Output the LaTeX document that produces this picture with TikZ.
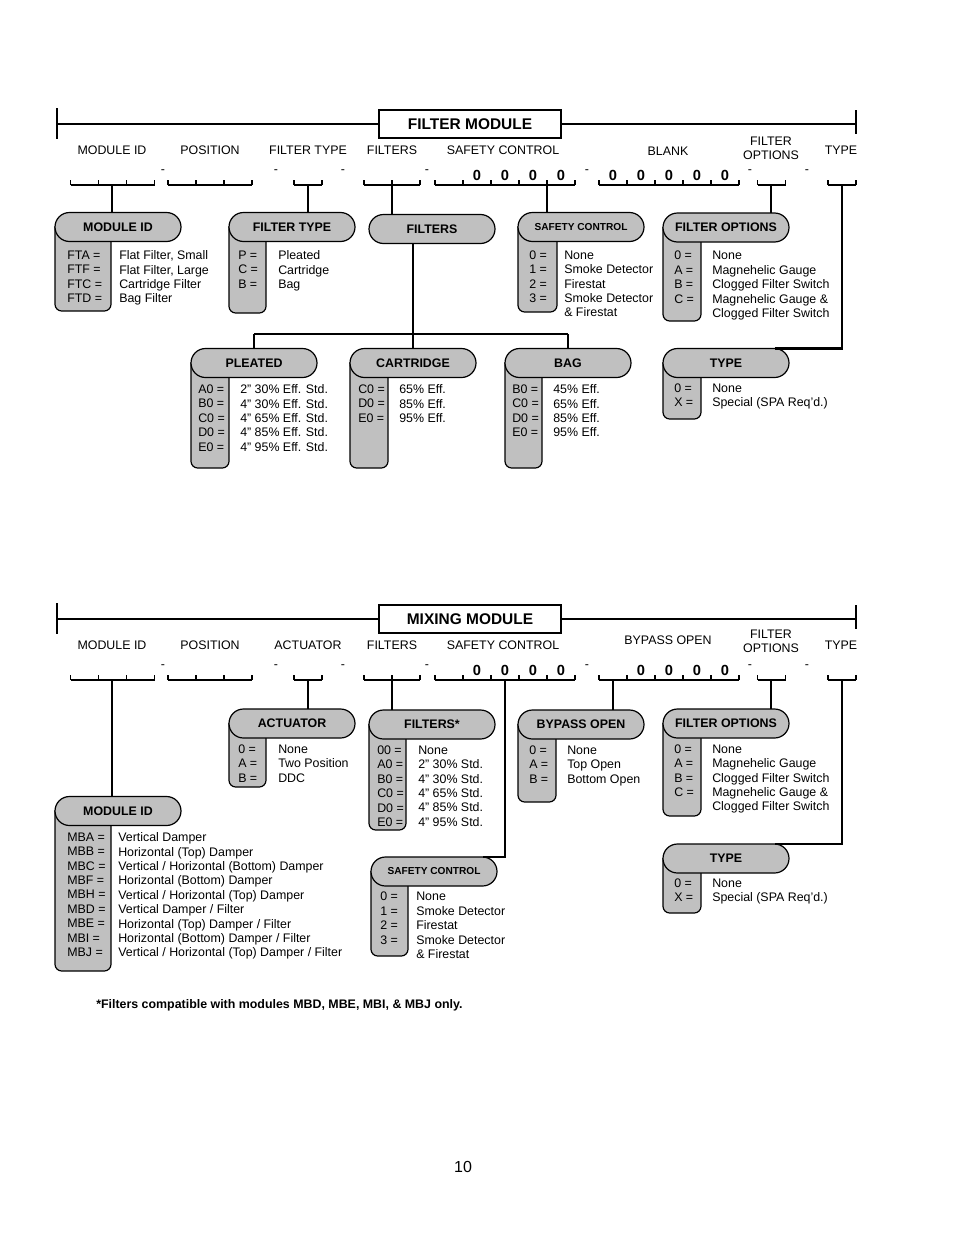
\documentclass[tikz,border=0pt]{standalone}
\usepackage{fontspec}
\setmainfont{Liberation Sans}
\usetikzlibrary{shapes.misc}

\definecolor{boxgray}{RGB}{192,192,192}

\tikzset{
  txt/.style={inner sep=0pt, font=\fontsize{9.3}{10.8}\selectfont},
  twoline/.style={txt, align=center},
  codes/.style={txt, anchor=north west, align=left},
  pill/.style={rounded rectangle, draw, fill=boxgray, line width=0.9pt,
    minimum width=94.5pt, minimum height=21.75pt, inner sep=0pt, outer sep=0pt,
    anchor=west, font=\bfseries\fontsize{9.3}{11}\selectfont},
  smallhdr/.style={font=\bfseries\fontsize{7.6}{9}\selectfont},
  tabfill/.style={draw, fill=boxgray, line width=0.9pt},
  titlebox/.style={draw, line width=1.6pt, minimum width=136.5pt, minimum height=21pt,
    inner sep=0pt, font=\bfseries\fontsize{11.6}{13}\selectfont},
  digit/.style={inner sep=0pt, font=\bfseries\fontsize{11}{13}\selectfont},
  bar/.style={line width=0.9pt},
  thinline/.style={line width=0.8pt},
  thickline/.style={line width=1.6pt}
}

% tab under a pill: left x, centre y, right x, bottom y
\newcommand{\codetab}[4]{%
  \draw[tabfill] (#1,#2) [rounded corners=5pt] -- (#1,#4) -- (#3,#4) -- (#3,#2) [sharp corners] -- cycle;}
% row of code slots: left x, slots, y
\newcommand{\slotrow}[3]{%
  \draw[bar] (#1,#3) -- ++(28*#2,0);
  \foreach \k in {0,...,#2} \draw[bar] (#1+28*\k,#3) -- ++(0,-5);}

\begin{document}
\begin{tikzpicture}[x=0.75pt, y=-0.75pt]
        \fill[white] (0,0) rectangle (954,1235);
        \useasboundingbox (0,0) rectangle (954,1235);

        % ---------------- filter module ----------------
        \node[titlebox] (fmtitle) at (470,124) {FILTER MODULE};
        \coordinate (fmleft) at (57,124);
        \coordinate (fmright) at (856,124);
        \draw[thinline] (fmleft) -- (fmtitle.west);
        \draw[thinline] (fmtitle.east) -- (fmright);
        \draw[thinline] (fmleft) ++(0,-16) -- ++(0,31);
        \draw[thinline] (fmright) ++(0,-14) -- ++(0,24);

        \node[txt] (fmlid) at (112,150) {MODULE ID};
        \node[txt] (fmlpos) at (210,150) {POSITION};
        \node[txt] (fmlft) at (308,150) {FILTER TYPE};
        \node[txt] (fmlfil) at (392,150) {FILTERS};
        \node[txt] (fmlsc) at (503,150) {SAFETY CONTROL};
        \node[txt] (fmlbl) at (668,151) {BLANK};
        \node[twoline] (fmlfo) at (771,148) {FILTER\\OPTIONS};
        \node[txt] (fmlty) at (841,150) {TYPE};

        \slotrow{70.7}{3}{185}
        \slotrow{168}{3}{185}
        \slotrow{294}{1}{185}
        \slotrow{364}{2}{185}
        \slotrow{435}{5}{185}
        \slotrow{599}{5}{185}
        \slotrow{757.7}{1}{185}
        \slotrow{828}{1}{185}
        \foreach \x in {163,276,343,427,587,750,807}
          \node[txt] (fmdash\x) at (\x,172) {-};
        \foreach \x in {477,505,533,561,613,641,669,697,725}
          \node[digit] (fmzero\x) at (\x,175.5) {0};

        \coordinate (fmidc) at (112,185);
        \coordinate (fmftc) at (308,185);
        \coordinate (fmfilc) at (392,185);
        \coordinate (fmscc) at (547,185);
        \coordinate (fmfoc) at (771,185);
        \coordinate (fmtyc) at (842,185);

        % module id
        \codetab{55}{227}{111}{311}
        \node[pill] (fmid) at (55,227) {MODULE ID};
        \node[codes] (fmidcode) at (67,250.5) {FTA =\\FTF =\\FTC =\\FTD =};
        \node[codes] (fmidtext) at (119,250.5) {Flat Filter, Small\\Flat Filter, Large\\Cartridge Filter\\Bag Filter};
        % filter type
        \codetab{229}{227}{266}{313}
        \node[pill] (fmft) at (229,227) {FILTER TYPE};
        \node[codes] (fmftcode) at (238,250.5) {P =\\C =\\B =};
        \node[codes] (fmfttext) at (278,250.5) {Pleated\\Cartridge\\Bag};
        % filters
        \node[pill] (fmfil) at (369,229) {FILTERS};
        % safety control
        \codetab{518}{227}{557}{312}
        \node[pill, smallhdr] (fmsc) at (518,227) {SAFETY CONTROL};
        \node[codes] (fmsccode) at (529,250.5) {0 =\\1 =\\2 =\\3 =};
        \node[codes] (fmsctext) at (564,250.5) {None\\Smoke Detector\\Firestat\\Smoke Detector\\\& Firestat};
        % filter options
        \codetab{663}{227.5}{701}{321}
        \node[pill] (fmfo) at (663,227.5) {FILTER OPTIONS};
        \node[codes] (fmfocode) at (674,251) {0 =\\A =\\B =\\C =};
        \node[codes] (fmfotext) at (712,251) {None\\Magnehelic Gauge\\Clogged Filter Switch\\Magnehelic Gauge \&\\Clogged Filter Switch};
        % type
        \codetab{663}{363}{701}{419}
        \node[pill] (fmty) at (663,363) {TYPE};
        \node[codes] (fmtycode) at (674,383.5) {0 =\\X =};
        \node[codes] (fmtytext) at (712,383.5) {None\\Special (SPA Req’d.)};
        % pleated
        \codetab{191}{363}{229}{468}
        \node[pill] (fmpl) at (191,363) {PLEATED};
        \node[codes] (fmplcode) at (198,384.5) {A0 =\\B0 =\\C0 =\\D0 =\\E0 =};
        \node[codes] (fmpltext) at (240,384.5) {2” 30\% Eff. Std.\\4” 30\% Eff. Std.\\4” 65\% Eff. Std.\\4” 85\% Eff. Std.\\4” 95\% Eff. Std.};
        % cartridge
        \codetab{350}{363}{388}{468}
        \node[pill] (fmca) at (350,363) {CARTRIDGE};
        \node[codes] (fmcacode) at (358,384.5) {C0 =\\D0 =\\E0 =};
        \node[codes] (fmcatext) at (399,384.5) {65\% Eff.\\85\% Eff.\\95\% Eff.};
        % bag
        \codetab{505}{363}{542}{468}
        \node[pill] (fmbag) at (505,363) {BAG};
        \node[codes] (fmbagcode) at (512,384.5) {B0 =\\C0 =\\D0 =\\E0 =};
        \node[codes] (fmbagtext) at (553,384.5) {45\% Eff.\\65\% Eff.\\85\% Eff.\\95\% Eff.};

        \draw[thickline] (fmidc) -- (fmidc |- fmid.north);
        \draw[thinline] (fmftc) -- (fmftc |- fmft.north);
        \draw[thickline] (fmfilc) -- (fmfilc |- fmfil.north);
        \draw[thickline] (fmscc) -- (fmscc |- fmsc.north);
        \draw[thinline] (fmfoc) -- (fmfoc |- fmfo.north);
        \draw[thickline] (fmtyc) |- (fmty.north east);
        \coordinate (fmfork) at (412,334);
        \draw[thinline] (fmca.north |- fmfil.south) -- (fmca.north);
        \draw[thinline] (fmpl.north |- fmfork) -- (fmbag.north |- fmfork);
        \draw[thinline] (fmpl.north |- fmfork) -- (fmpl.north);
        \draw[thinline] (fmbag.north |- fmfork) -- (fmbag.north);

        % ---------------- mixing module ----------------
        \node[titlebox] (mmtitle) at (470,619) {MIXING MODULE};
        \coordinate (mmleft) at (57,619);
        \coordinate (mmright) at (856,619);
        \draw[thinline] (mmleft) -- (mmtitle.west);
        \draw[thinline] (mmtitle.east) -- (mmright);
        \draw[thinline] (mmleft) ++(0,-16) -- ++(0,31);
        \draw[thinline] (mmright) ++(0,-14) -- ++(0,24);

        \node[txt] (mmlid) at (112,645) {MODULE ID};
        \node[txt] (mmlpos) at (210,645) {POSITION};
        \node[txt] (mmlact) at (308,645) {ACTUATOR};
        \node[txt] (mmlfil) at (392,645) {FILTERS};
        \node[txt] (mmlsc) at (503,645) {SAFETY CONTROL};
        \node[txt] (mmlbyp) at (668,640) {BYPASS OPEN};
        \node[twoline] (mmlfo) at (771,641.5) {FILTER\\OPTIONS};
        \node[txt] (mmlty) at (841,645) {TYPE};

        \slotrow{70.7}{3}{680}
        \slotrow{168}{3}{680}
        \slotrow{294}{1}{680}
        \slotrow{364}{2}{680}
        \slotrow{435}{5}{680}
        \slotrow{599}{5}{680}
        \slotrow{757.7}{1}{680}
        \slotrow{828}{1}{680}
        \foreach \x in {163,276,343,427,587,750,807}
          \node[txt] (mmdash\x) at (\x,667) {-};
        \foreach \x in {477,505,533,561,641,669,697,725}
          \node[digit] (mmzero\x) at (\x,670.5) {0};

        \coordinate (mmidc) at (112,680);
        \coordinate (mmactc) at (308,680);
        \coordinate (mmfilc) at (392,680);
        \coordinate (mmscc) at (505,680);
        \coordinate (mmbypc) at (613,680);
        \coordinate (mmfoc) at (771,680);
        \coordinate (mmtyc) at (842,680);

        % actuator
        \codetab{229}{723.5}{266}{787}
        \node[pill] (mmact) at (229,723.5) {ACTUATOR};
        \node[codes] (mmactcode) at (238,744.5) {0 =\\A =\\B =};
        \node[codes] (mmacttext) at (278,744.5) {None\\Two Position\\DDC};
        % filters
        \codetab{369}{724.5}{406}{830}
        \node[pill] (mmfil) at (369,724.5) {FILTERS*};
        \node[codes] (mmfilcode) at (377,745.5) {00 =\\A0 =\\B0 =\\C0 =\\D0 =\\E0 =};
        \node[codes] (mmfiltext) at (418,745.5) {None\\2” 30\% Std.\\4” 30\% Std.\\4” 65\% Std.\\4” 85\% Std.\\4” 95\% Std.};
        % bypass open
        \codetab{518}{724.5}{556}{802}
        \node[pill] (mmbyp) at (518,724.5) {BYPASS OPEN};
        \node[codes] (mmbypcode) at (529,745.5) {0 =\\A =\\B =};
        \node[codes] (mmbyptext) at (567,745.5) {None\\Top Open\\Bottom Open};
        % filter options
        \codetab{663}{723.5}{701}{816}
        \node[pill] (mmfo) at (663,723.5) {FILTER OPTIONS};
        \node[codes] (mmfocode) at (674,744.5) {0 =\\A =\\B =\\C =};
        \node[codes] (mmfotext) at (712,744.5) {None\\Magnehelic Gauge\\Clogged Filter Switch\\Magnehelic Gauge \&\\Clogged Filter Switch};
        % type
        \codetab{663}{858.5}{701}{913}
        \node[pill] (mmty) at (663,858.5) {TYPE};
        \node[codes] (mmtycode) at (674,878.5) {0 =\\X =};
        \node[codes] (mmtytext) at (712,878.5) {None\\Special (SPA Req’d.)};
        % safety control
        \codetab{371}{871.5}{408}{956}
        \node[pill, smallhdr] (mmsc) at (371,871.5) {SAFETY CONTROL};
        \node[codes] (mmsccode) at (380,892) {0 =\\1 =\\2 =\\3 =};
        \node[codes] (mmsctext) at (416,892) {None\\Smoke Detector\\Firestat\\Smoke Detector\\\& Firestat};
        % module id
        \codetab{55}{811}{111}{971}
        \node[pill] (mmid) at (55,811) {MODULE ID};
        \node[codes] (mmidcode) at (67,832.5) {MBA =\\MBB =\\MBC =\\MBF =\\MBH =\\MBD =\\MBE =\\MBI =\\MBJ =};
        \node[codes] (mmidtext) at (118,832.5) {Vertical Damper\\Horizontal (Top) Damper\\Vertical / Horizontal (Bottom) Damper\\Horizontal (Bottom) Damper\\Vertical / Horizontal (Top) Damper\\Vertical Damper / Filter\\Horizontal (Top) Damper / Filter\\Horizontal (Bottom) Damper / Filter\\Vertical / Horizontal (Top) Damper / Filter};

        \draw[thickline] (mmidc) -- (mmidc |- mmid.north);
        \draw[thinline] (mmactc) -- (mmactc |- mmact.north);
        \draw[thickline] (mmfilc) -- (mmfilc |- mmfil.north);
        \draw[thickline] (mmscc) |- (mmsc.north east);
        \draw[thickline] (mmbypc) -- (mmbypc |- mmbyp.north);
        \draw[thinline] (mmfoc) -- (mmfoc |- mmfo.north);
        \draw[thickline] (mmtyc) |- (mmty.north east);

        \node[txt, anchor=west, font=\bfseries\fontsize{9.3}{11}\selectfont] (note) at (96,1005) {*Filters compatible with modules MBD, MBE, MBI, \& MBJ only.};
        \node[inner sep=0pt, font=\fontsize{12}{14}\selectfont] (pagenum) at (463,1167) {10};
\end{tikzpicture}
\end{document}
